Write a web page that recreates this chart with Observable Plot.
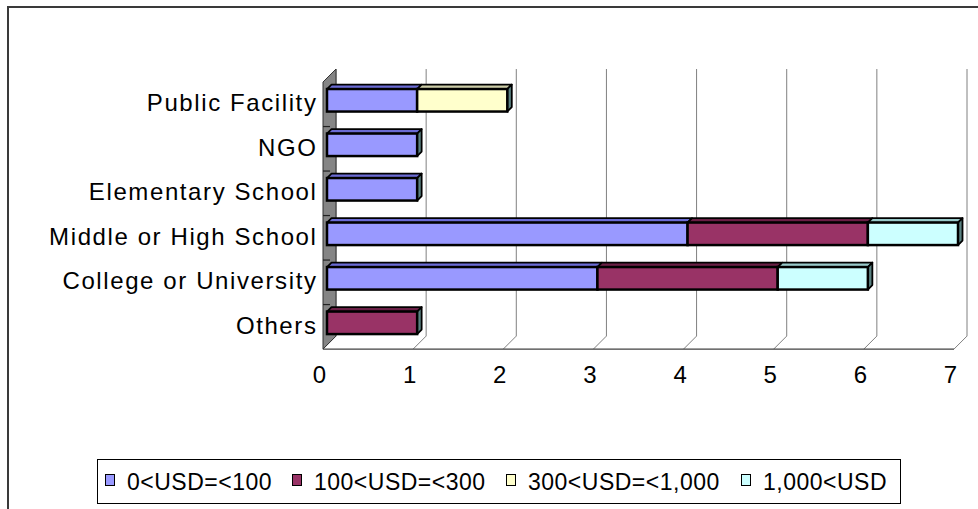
<!DOCTYPE html>
<html>
<head>
<meta charset="utf-8">
<script src="https://cdn.jsdelivr.net/npm/d3@7"></script>
<script src="https://cdn.jsdelivr.net/npm/@observablehq/plot@0.6"></script>
<style>
  body { margin: 0; background: #fff; }
  #wrap { position: relative; width: 978px; height: 509px; overflow: hidden; font-family: "Liberation Sans", Arial, sans-serif; color: #000; }
  #chart { position: absolute; left: 0; top: 0; }
  #chart svg { background: transparent; }
  #chart g[aria-label="y-axis tick label"] text { letter-spacing: 1.6px; }
  #frame { position: absolute; left: 7px; top: 6px; width: 1100px; height: 700px; border-left: 2px solid #3a3a3a; border-top: 2px solid #3a3a3a; pointer-events: none; }
  #legend { position: absolute; left: 97px; top: 459px; width: 802px; height: 43px; border: 1px solid #000; background: transparent; }
  .item { position: absolute; top: 10px; display: flex; align-items: flex-start; width: max-content; font-size: 23px; line-height: 24px; letter-spacing: 0.5px; white-space: nowrap; }
  .sw { flex: 0 0 auto; box-sizing: border-box; width: 10px; height: 12px; border: 1.6px solid #000; margin-top: 4px; margin-right: 12px; }
</style>
</head>
<body>
<div id="wrap">
  <div id="chart"></div>
  <div id="legend"></div>
  <div id="frame"></div>
</div>
<script>
// ---- data ----
const categories = ["Public Facility", "NGO", "Elementary School", "Middle or High School", "College or University", "Others"];
const seriesNames = ["0<USD=<100", "100<USD=<300", "300<USD=<1,000", "1,000<USD"];
const usd0to100    = [1, 1, 1, 4, 3, 0];
const usd100to300  = [0, 0, 0, 2, 2, 1];
const usd300to1000 = [1, 0, 0, 0, 0, 0];
const usdOver1000  = [0, 0, 0, 1, 1, 0];
const xTicks = [0, 1, 2, 3, 4, 5, 6, 7];

// ---- styles ----
const frontColors = ["#9999FF", "#993366", "#FFFFCC", "#CCFFFF"];
const topColors   = ["#6b6bd4", "#6a1f45", "#cdcda8", "#98c9c9"];
const sideColor   = "#5b8282";
const depth = 4.5;      // bar depth (px)
const wallDepth = 13;   // chart depth (px)

// ---- build stacked table ----
const seriesValues = [usd0to100, usd100to300, usd300to1000, usdOver1000];
const rows = [];
categories.forEach((c, i) => {
  let acc = 0;
  seriesValues.forEach((vals, s) => {
    const v = vals[i];
    if (v > 0) {
      rows.push({category: c, series: seriesNames[s], sIndex: s, x1: acc, x2: acc + v});
      acc += v;
    }
  });
});
const lastByCat = new Map();
rows.forEach(r => lastByCat.set(r.category, r));

// back wall, gridlines, floor and side wall
function backDeco(index, scales) {
  const x = scales.x, y = scales.y;
  const bw = y.bandwidth();
  const step = y.step();
  const g = d3.create("svg:g");
  const floorY = y(categories[categories.length - 1]) + bw + 15;
  const topY = y(categories[0]) - 20;
  const fx = v => x(v) - 4;             // front plane
  const bx = v => x(v) - 4 + wallDepth; // back plane
  for (const t of xTicks) {
    g.append("path")
      .attr("d", `M${bx(t)},${topY}V${floorY - wallDepth}L${fx(t)},${floorY}`)
      .attr("fill", "none").attr("stroke", "#808080").attr("stroke-width", 1);
  }
  g.append("path")
    .attr("d", `M${fx(0)},${floorY}H${fx(xTicks[xTicks.length - 1])}`)
    .attr("stroke", "#404040").attr("stroke-width", 1.2);
  g.append("path")
    .attr("d", `M${fx(0)},${topY + wallDepth}L${bx(0)},${topY}V${floorY - wallDepth}L${fx(0)},${floorY}Z`)
    .attr("fill", "#858585").attr("stroke", "#333").attr("stroke-width", 1);
  for (let i = 1; i < categories.length; i++) {
    const yb = y(categories[i]) - (step - bw) / 2 + 4;
    g.append("path").attr("d", `M${fx(0)},${yb}H${fx(0) + 7}`).attr("stroke", "#222").attr("stroke-width", 1.2);
  }
  return g.node();
}

// top and side faces of the 3D bars
function barFaces(index, scales) {
  const x = scales.x, y = scales.y;
  const bw = y.bandwidth();
  const g = d3.create("svg:g");
  for (const r of rows) {
    const top = y(r.category), bot = top + bw;
    const a = x(r.x1), b = x(r.x2);
    g.append("path")
      .attr("d", `M${a},${top}L${a + depth},${top - depth}H${b + depth}L${b},${top}Z`)
      .attr("fill", topColors[r.sIndex]).attr("stroke", "#000").attr("stroke-width", 1.8).attr("stroke-linejoin", "round");
    if (lastByCat.get(r.category) === r) {
      g.append("path")
        .attr("d", `M${b},${top}L${b + depth},${top - depth}V${bot - depth}L${b},${bot}Z`)
        .attr("fill", sideColor).attr("stroke", "#000").attr("stroke-width", 1.8).attr("stroke-linejoin", "round");
    }
  }
  return g.node();
}

const chart = Plot.plot({
  width: 978,
  height: 400,
  marginLeft: 323,
  marginRight: 24,
  marginTop: 60,
  marginBottom: 51,
  style: {fontFamily: "'Liberation Sans', Arial, sans-serif", fontSize: "24px", color: "#000", background: "transparent", overflow: "visible"},
  x: {domain: [0, 7], range: [327, 958]},
  y: {domain: categories, range: [77.9, 345.2], paddingInner: 0.494, paddingOuter: 0.25, align: 0.5, round: false},
  color: {domain: seriesNames, range: frontColors},
  marks: [
    backDeco,
    barFaces,
    Plot.barX(rows, {x1: "x1", x2: "x2", y: "category", fill: "series", stroke: "#000", strokeWidth: 2.5}),
    Plot.axisX({ticks: xTicks, tickSize: 0, tickPadding: 16, dx: -8, tickFormat: d => String(d), fontSize: 24, label: null}),
    Plot.axisY({tickSize: 0, tickPadding: 6, dy: 3, fontSize: 24, label: null})
  ]
});
document.getElementById("chart").appendChild(chart);

// legend
const legendX = [7, 194, 408, 643];
const legend = document.getElementById("legend");
seriesNames.forEach((name, i) => {
  const item = document.createElement("div");
  item.className = "item";
  item.style.left = legendX[i] + "px";
  const sw = document.createElement("div");
  sw.className = "sw";
  sw.style.background = frontColors[i];
  const t = document.createElement("span");
  t.textContent = name;
  item.appendChild(sw);
  item.appendChild(t);
  legend.appendChild(item);
});
</script>
</body>
</html>
